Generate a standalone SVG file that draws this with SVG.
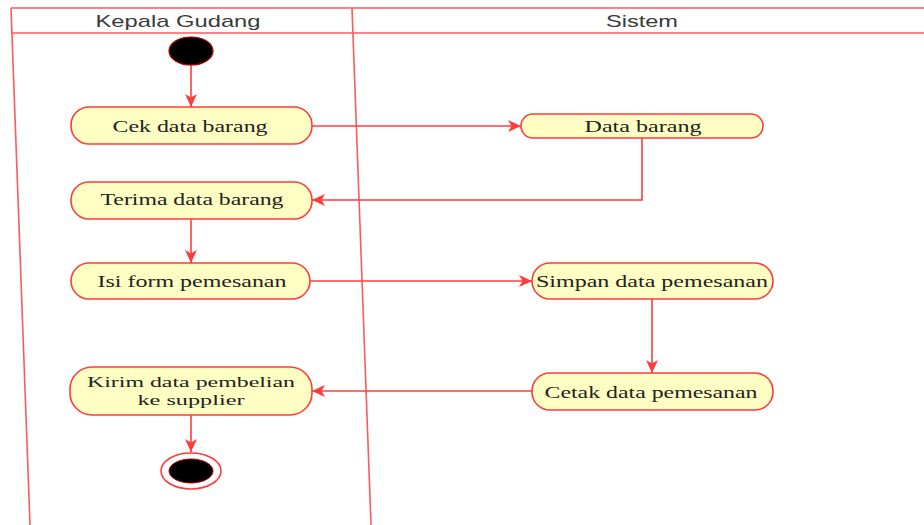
<svg xmlns="http://www.w3.org/2000/svg" width="924" height="525" viewBox="0 0 924 525">
  <style>
    .lane { stroke: #ff5a5a; stroke-width: 1.6; fill: none; }
    .head { font-family: "Liberation Sans", Arial, sans-serif; font-size: 17px; fill: #3a3a3a; text-anchor: middle; }
    .act rect { fill: #ffffc4; stroke: #ff3b3b; stroke-width: 1.6; }
    .act text { font-family: "Liberation Serif", "Times New Roman", serif; font-size: 17px; fill: #222; text-anchor: middle; }
    .act text.two { font-size: 15.5px; }
    .edge { stroke: #ff3b3b; stroke-width: 1.6; fill: none; marker-end: url(#arrow); }
  </style>
  <defs>
    <marker id="arrow" markerUnits="userSpaceOnUse" markerWidth="14" markerHeight="12" refX="13" refY="6" orient="auto">
      <path d="M0,0 L13,6 L0,12 L3.5,6 z" fill="#ff3b3b"/>
    </marker>
  </defs>

  <rect width="924" height="525" fill="#ffffff"/>

  <!-- swimlanes -->
  <g id="swimlanes">
    <line class="lane" x1="11" y1="8" x2="924" y2="8"/>
    <line class="lane" x1="11" y1="33" x2="924" y2="33"/>
    <line class="lane" x1="11" y1="8" x2="30" y2="525"/>
    <line class="lane" x1="352" y1="8" x2="371" y2="525"/>
    <text class="head" x="178" y="27" textLength="165" lengthAdjust="spacingAndGlyphs">Kepala Gudang</text>
    <text class="head" x="642" y="27" textLength="72" lengthAdjust="spacingAndGlyphs">Sistem</text>
  </g>

  <!-- connectors -->
  <g id="connectors">
    <line class="edge" x1="191" y1="65" x2="191" y2="107"/>
    <line class="edge" x1="312" y1="126" x2="521" y2="126"/>
    <polyline class="edge" points="642,138 642,200 312,200"/>
    <line class="edge" x1="191" y1="219" x2="191" y2="263"/>
    <line class="edge" x1="310" y1="281" x2="532" y2="281"/>
    <line class="edge" x1="652" y1="299" x2="652" y2="373"/>
    <line class="edge" x1="532" y1="391" x2="312" y2="391"/>
    <line class="edge" x1="191" y1="415" x2="191" y2="452"/>
  </g>

  <!-- start / end -->
  <g id="start">
    <ellipse cx="191" cy="51" rx="22" ry="14" fill="#000" stroke="#b00000" stroke-width="1.2"/>
  </g>
  <g id="end">
    <ellipse cx="191" cy="471" rx="30" ry="18" fill="#fff" stroke="#ff3b3b" stroke-width="1.6"/>
    <ellipse cx="191" cy="471" rx="22" ry="12" fill="#000" stroke="#b00000" stroke-width="1"/>
  </g>

  <!-- activities -->
  <g id="cek-data-barang" class="act">
    <rect x="71" y="107" width="241" height="37" rx="18" ry="18"/>
    <text x="190" y="132" textLength="155" lengthAdjust="spacingAndGlyphs">Cek data barang</text>
  </g>
  <g id="data-barang" class="act">
    <rect x="521" y="114" width="242" height="24" rx="12" ry="12"/>
    <text x="643" y="132" textLength="117" lengthAdjust="spacingAndGlyphs">Data barang</text>
  </g>
  <g id="terima-data-barang" class="act">
    <rect x="71" y="182" width="241" height="37" rx="18" ry="18"/>
    <text x="192" y="205" textLength="183" lengthAdjust="spacingAndGlyphs">Terima data barang</text>
  </g>
  <g id="isi-form-pemesanan" class="act">
    <rect x="71" y="263" width="239" height="36" rx="18" ry="18"/>
    <text x="192" y="287" textLength="189" lengthAdjust="spacingAndGlyphs">Isi form pemesanan</text>
  </g>
  <g id="simpan-data-pemesanan" class="act">
    <rect x="532" y="263" width="241" height="36" rx="18" ry="18"/>
    <text x="652" y="287" textLength="232" lengthAdjust="spacingAndGlyphs">Simpan data pemesanan</text>
  </g>
  <g id="cetak-data-pemesanan" class="act">
    <rect x="532" y="373" width="241" height="37" rx="18" ry="18"/>
    <text x="651" y="398" textLength="213" lengthAdjust="spacingAndGlyphs">Cetak data pemesanan</text>
  </g>
  <g id="kirim-data-pembelian" class="act">
    <rect x="70" y="367" width="242" height="48" rx="22" ry="22"/>
    <text class="two" x="191" y="387" textLength="208" lengthAdjust="spacingAndGlyphs">Kirim data pembelian</text>
    <text class="two" x="191" y="405" textLength="107" lengthAdjust="spacingAndGlyphs">ke supplier</text>
  </g>
</svg>
